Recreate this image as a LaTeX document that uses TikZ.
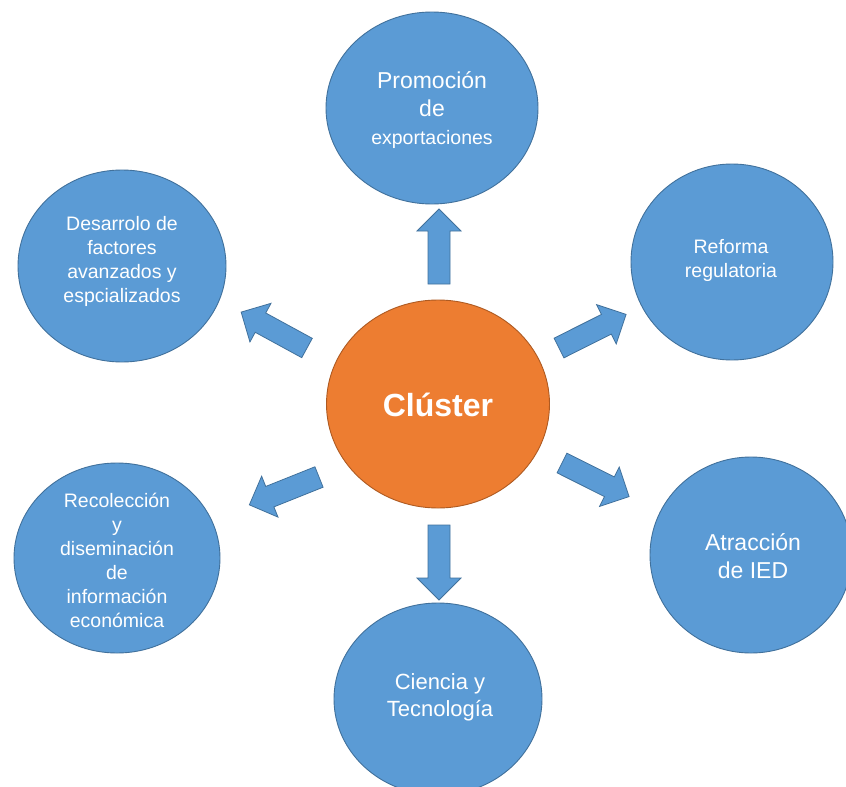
\documentclass[tikz,border=0pt]{standalone}
\usepackage{fontspec}
\setmainfont{Liberation Sans}
\usetikzlibrary{shapes.geometric}
\definecolor{blobblue}{HTML}{5B9BD5}
\definecolor{blobedge}{HTML}{41719C}
\definecolor{coreorange}{HTML}{ED7D31}
\definecolor{coreedge}{HTML}{AE5A21}
\newcommand\blockarrow[2]{%
  \begin{scope}[shift={(#1)},rotate=#2]
    \draw[fatarrow] (0,-11) -- (53,-11) -- (53,-22) -- (75,0) -- (53,22) -- (53,11) -- (0,11) -- cycle;
  \end{scope}}
\begin{document}
\begin{tikzpicture}[x=1pt,y=-1pt,
  blob/.style={ellipse, draw=blobedge, fill=blobblue, line width=0.9pt, inner sep=0pt},
  core/.style={ellipse, draw=coreedge, fill=coreorange, line width=0.9pt, inner sep=0pt},
  txt/.style={text=white, align=center, inner sep=0pt},
  fatarrow/.style={draw=blobedge, fill=blobblue, line width=0.8pt, line join=miter}]
\useasboundingbox[fill=white] (0,0) rectangle (846,787);
% circles
\node[blob, minimum width=212pt, minimum height=192pt] (promo) at (432,108) {};
\node[blob, minimum width=202pt, minimum height=196pt] (reforma) at (732,262) {};
\node[blob, minimum width=208pt, minimum height=192pt] (desarrollo) at (122,266) {};
\node[blob, minimum width=206pt, minimum height=190pt] (recol) at (117,558) {};
\node[blob, minimum width=202pt, minimum height=196pt] (atrac) at (751,555) {};
\node[blob, minimum width=208pt, minimum height=192pt] (ciencia) at (438,699) {};
\node[core, minimum width=223pt, minimum height=208pt] (cluster) at (438,404) {};
% texts
\node[txt, font=\fontsize{23}{28}\selectfont] (promot) at (432,110) {Promoción\\de\\{\fontsize{19.5}{24}\selectfont exportaciones}};
\node[txt, font=\fontsize{19.5}{24}\selectfont] (reformat) at (731,260) {Reforma\\regulatoria};
\node[txt, font=\fontsize{19.5}{24}\selectfont] (desarrollot) at (122,261) {Desarrolo de\\factores\\avanzados y\\espcializados};
\node[txt, font=\fontsize{19.5}{24}\selectfont] (recolt) at (117,560) {Recolección\\y\\diseminación\\de\\información\\económica};
\node[txt, font=\fontsize{23}{28}\selectfont] (atract) at (753,556) {Atracción\\de IED};
\node[txt, font=\fontsize{22}{27}\selectfont] (cienciat) at (440,697) {Ciencia y\\Tecnología};
\node[txt, font=\fontsize{32}{38}\selectfont\bfseries] (clustert) at (438,405) {Clúster};
% arrow tails
\coordinate (tup) at (439,284);
\coordinate (tdown) at (439,525);
\coordinate (tur) at (559,348);
\coordinate (tul) at (307,348);
\coordinate (tll) at (319,477);
\coordinate (tlr) at (562,463);
\blockarrow{tup}{90}
\blockarrow{tdown}{-90}
\blockarrow{tur}{26.6}
\blockarrow{tul}{151.4}
\blockarrow{tll}{201.8}
\blockarrow{tlr}{-26.6}
\end{tikzpicture}
\end{document}
